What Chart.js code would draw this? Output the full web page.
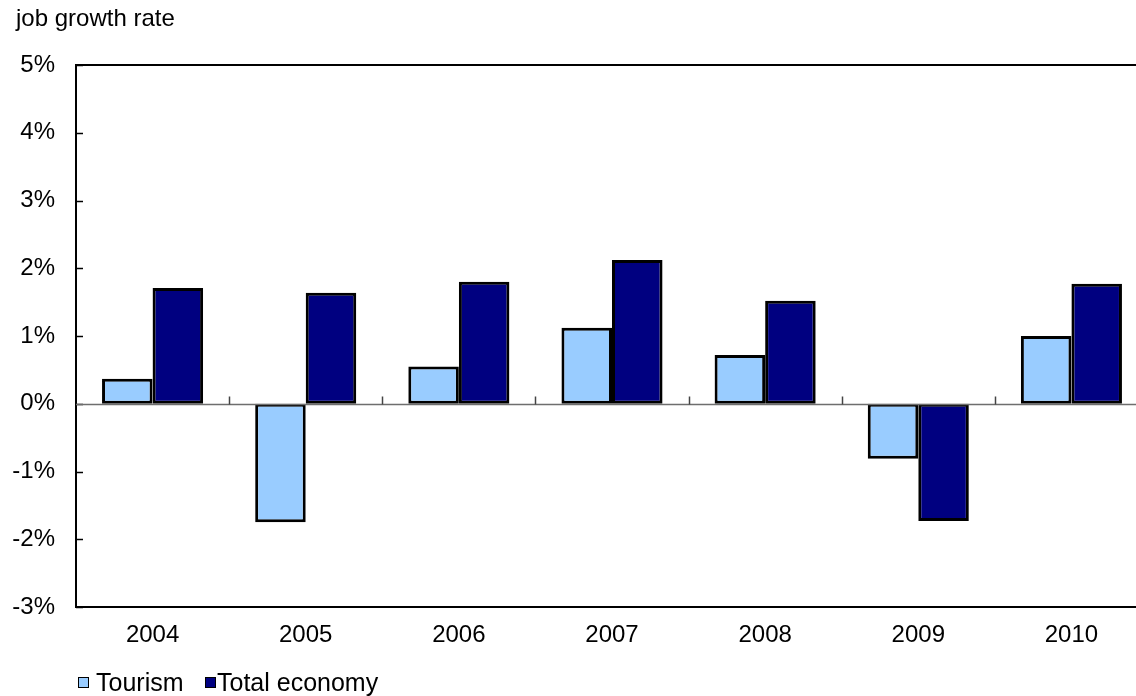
<!DOCTYPE html>
<html>
<head>
<meta charset="utf-8">
<script src="https://cdn.jsdelivr.net/npm/chart.js@4/dist/chart.umd.min.js"></script>
<style>
  html, body { margin: 0; padding: 0; background: #fff; overflow: hidden; }
  #frame { position: relative; width: 1136px; height: 696px; overflow: hidden; }
  #wrap { position: absolute; left: 0; top: 0; width: 1148px; height: 696px; }
  .txt { position: absolute; font-family: "Liberation Sans", Arial, sans-serif; font-size: 24px; line-height: 24px; color: #000; white-space: nowrap; }
  .leg { font-size: 25px; line-height: 25px; }
  .box { position: absolute; width: 9px; height: 9px; border: 1.5px solid #000; }
</style>
</head>
<body>
<div id="frame">
  <div id="wrap"><canvas id="c"></canvas></div>
  <div class="txt" id="title" style="left:16px; top:6px;">job growth rate</div>
  <div id="legend"></div>
</div>
<script>
const categories = ["2004", "2005", "2006", "2007", "2008", "2009", "2010"];
const tourism = [0.37, -1.75, 0.55, 1.12, 0.72, -0.81, 1.00];
const totalEconomy = [1.71, 1.64, 1.80, 2.12, 1.52, -1.73, 1.77];
const seriesNames = ["Tourism", "Total economy"];
const seriesColors = ["#99CCFF", "#000080"];
const yTicks = [-3, -2, -1, 0, 1, 2, 3, 4, 5];

// HTML legend
const legendEl = document.getElementById('legend');
const legendPos = [[78, 96], [205, 217]];
seriesNames.forEach((name, i) => {
  const b = document.createElement('div');
  b.className = 'box';
  b.style.left = legendPos[i][0] + 'px';
  b.style.top = '677px';
  b.style.background = seriesColors[i];
  legendEl.appendChild(b);
  const t = document.createElement('div');
  t.className = 'txt leg';
  t.style.left = legendPos[i][1] + 'px';
  t.style.top = '670px';
  t.textContent = name;
  legendEl.appendChild(t);
});

const framePlugin = {
  id: 'framePlugin',
  afterDatasetsDraw(chart) {
    const { ctx, chartArea } = chart;
    const x = chart.scales.x, y = chart.scales.y;
    ctx.save();
    // top border
    ctx.strokeStyle = '#000';
    ctx.lineWidth = 2;
    ctx.beginPath();
    ctx.moveTo(chartArea.left - 1, chartArea.top);
    ctx.lineTo(chartArea.right, chartArea.top);
    ctx.stroke();
    // y ticks inward
    ctx.lineWidth = 1.5;
    yTicks.forEach(v => {
      const py = Math.round(y.getPixelForValue(v)) + 0.5;
      ctx.beginPath();
      ctx.moveTo(chartArea.left, py);
      ctx.lineTo(chartArea.left + 7, py);
      ctx.stroke();
    });
    // zero line
    const y0 = Math.round(y.getPixelForValue(0)) + 0.5;
    ctx.strokeStyle = '#6e6e6e';
    ctx.lineWidth = 1.5;
    ctx.beginPath();
    ctx.moveTo(chartArea.left, y0);
    ctx.lineTo(chartArea.right, y0);
    ctx.stroke();
    // category boundary ticks on zero line
    ctx.strokeStyle = '#444';
    const w = (chartArea.right - chartArea.left) / categories.length;
    for (let i = 1; i < categories.length; i++) {
      const px = Math.round(x.getPixelForValue(i) - w / 2) + 0.5;
      ctx.beginPath();
      ctx.moveTo(px, y0);
      ctx.lineTo(px, y0 - 8);
      ctx.stroke();
    }
    ctx.restore();
  }
};

const fontSpec = { family: '"Liberation Sans", Arial, sans-serif', size: 24 };

new Chart(document.getElementById('c'), {
  type: 'bar',
  data: {
    labels: categories,
    datasets: [
      { label: seriesNames[0], data: tourism, backgroundColor: seriesColors[0], borderColor: '#000', borderWidth: 3, borderSkipped: false, categoryPercentage: 0.66, barPercentage: 1.0 },
      { label: seriesNames[1], data: totalEconomy, backgroundColor: seriesColors[1], borderColor: '#000', borderWidth: 3, borderSkipped: false, categoryPercentage: 0.66, barPercentage: 1.0 }
    ]
  },
  options: {
    responsive: true,
    maintainAspectRatio: false,
    animation: false,
    layout: { padding: { top: 65, left: 0, right: 0, bottom: 0 } },
    plugins: { legend: { display: false }, title: { display: false }, tooltip: { enabled: false } },
    scales: {
      x: {
        grid: { display: false, drawTicks: false },
        border: { display: true, color: '#000', width: 2 },
        ticks: { color: '#000', font: fontSpec, padding: 14, maxRotation: 0 },
        afterFit(s) { s.height = 89; }
      },
      y: {
        min: -3, max: 5,
        grid: { display: false, drawTicks: false },
        border: { display: true, color: '#000', width: 2 },
        ticks: { stepSize: 1, color: '#000', font: fontSpec, padding: 21, callback: v => v + '%' },
        afterFit(s) { s.width = 76; }
      }
    }
  },
  plugins: [framePlugin]
});
</script>
</body>
</html>
